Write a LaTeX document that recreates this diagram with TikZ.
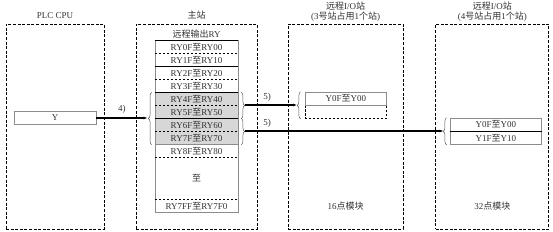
\documentclass[tikz,border=0pt]{standalone}
\usepackage{fontspec}
\setmainfont{Liberation Serif}
\newfontfamily\cjkfont{Noto Sans CJK SC}
\newcommand{\zh}[1]{{\cjkfont #1}}
\usepackage{tikz}
\usetikzlibrary{arrows.meta, positioning, calc, decorations.pathreplacing}
\definecolor{TxtGray}{RGB}{50, 50, 50}
\definecolor{CellGray}{RGB}{215, 215, 215}
\definecolor{EdgeGray}{RGB}{140, 140, 140}

\begin{document}
\begin{tikzpicture}[x=1pt, y=-1pt,
  frame/.style={draw=black, dashed, dash pattern=on 3pt off 1.6pt, line width=0.8pt,
    minimum width=#1, minimum height=205pt, inner sep=0pt},
  lbl/.style={font=\fontsize{9}{10.5}\selectfont\color{TxtGray}, inner sep=0pt, align=center},
  cell/.style={minimum width=83pt, minimum height=13pt, inner sep=0pt,
    font=\fontsize{9}{10}\selectfont\color{TxtGray}},
  hicell/.style={cell, fill=CellGray},
  regbox/.style={draw=EdgeGray, line width=0.6pt, minimum height=13pt, inner sep=0pt,
    font=\fontsize{9}{10}\selectfont\color{TxtGray}},
  thin dash/.style={dashed, dash pattern=on 2.5pt off 1.5pt, line width=0.6pt},
  thick sep/.style={line width=1.4pt},
  brc/.style={decorate, decoration={brace, amplitude=3.5pt}, line width=0.5pt, EdgeGray!60!black},
  arr/.style={-{Latex[length=4pt, width=3pt]}, line width=1.3pt}
]
\useasboundingbox (0,0) rectangle (553,232);

\node[frame=98pt]  (plc) at (55,126.5)    {};
\node[frame=121pt] (mst) at (196.5,126.5) {};
\node[frame=115pt] (st3) at (345.5,126.5) {};
\node[frame=113pt] (st4) at (492.3,126.5) {};

\node[lbl] (plct) at (55,16)    {PLC CPU};
\node[lbl] (mstt) at (196.5,15) {\zh{主站}};
\node[lbl] (st3t) at (345.5,11.5) {\zh{远程}I/O\zh{站}\\(3\zh{号站占用}1\zh{个站})};
\node[lbl] (st4t) at (492.3,11.5) {\zh{远程}I/O\zh{站}\\(4\zh{号站占用}1\zh{个站})};
\node[lbl] (ryt)  at (196.5,34) {\zh{远程输出}RY};

\node[regbox, minimum width=82pt] (yreg) at (55,118) {Y};

\node[cell]   (r0) at (196.5,47)  {RY0F\zh{至}RY00};
\node[cell]   (r1) at (196.5,60)  {RY1F\zh{至}RY10};
\node[cell]   (r2) at (196.5,73)  {RY2F\zh{至}RY20};
\node[cell]   (r3) at (196.5,86)  {RY3F\zh{至}RY30};
\node[hicell] (r4) at (196.5,99)  {RY4F\zh{至}RY40};
\node[hicell] (r5) at (196.5,112) {RY5F\zh{至}RY50};
\node[hicell] (r6) at (196.5,125) {RY6F\zh{至}RY60};
\node[hicell] (r7) at (196.5,138) {RY7F\zh{至}RY70};
\node[cell]   (r8) at (196.5,151) {RY8F\zh{至}RY80};
\node[cell, minimum height=42pt] (rmid) at (196.5,178.5) {\zh{至}};
\node[cell]   (rlast) at (196.5,206) {RY7FF\zh{至}RY7F0};

\draw[EdgeGray, line width=0.6pt] (r0.north west) rectangle (rlast.south east);
\draw[thick sep] (r0.north west) -- (r0.north east);
\draw[thin dash] (r0.south west) -- (r0.south east);
\draw[thick sep] (r1.south west) -- (r1.south east);
\draw[thin dash] (r2.south west) -- (r2.south east);
\draw[thick sep] (r3.south west) -- (r3.south east);
\draw[thin dash] (r4.south west) -- (r4.south east);
\draw[thick sep] (r5.south west) -- (r5.south east);
\draw[thin dash] (r6.south west) -- (r6.south east);
\draw[EdgeGray, line width=0.6pt] (r7.south west) -- (r7.south east);
\draw[thin dash] (r8.south west) -- (r8.south east);
\draw[thin dash, line width=1.4pt] (rmid.south west) -- (rmid.south east);

\node[regbox, minimum width=81.7pt] (s3a) at (345.8,98.5) {Y0F\zh{至}Y00};
\node[regbox, draw=black, thin dash, minimum width=81.7pt, below=0pt of s3a] (s3b) {};
\draw[EdgeGray, line width=0.6pt] (s3a.south west) -- (s3a.south east);

\node[regbox, minimum width=91.7pt] (s4a) at (495.8,124.5) {Y0F\zh{至}Y00};
\node[regbox, minimum width=91.7pt, below=0pt of s4a] (s4b) {Y1F\zh{至}Y10};
\draw[thick sep] (s4a.south west) -- (s4a.south east);

\draw[brc] ($(r7.south west)+(-3,0)$) -- ($(r4.north west)+(-3,0)$);
\draw[brc] ($(r4.north east)+(3,0)$) -- ($(r5.south east)+(3,0)$);
\draw[brc] ($(r6.north east)+(3,0)$) -- ($(r7.south east)+(3,0)$);
\draw[brc] ($(s3b.south west)+(-4,0)$) -- ($(s3a.north west)+(-4,0)$);
\draw[brc] ($(s4b.south west)+(-3,0)$) -- ($(s4a.north west)+(-3,0)$);

\coordinate (inL)  at (147.5,118);
\coordinate (out1) at (245,105);
\coordinate (out2) at (245,131);
\coordinate (in3)  at (297,105);
\coordinate (in4)  at (443.5,131);

\draw[arr] (yreg.east) -- (inL) node[lbl, above=4pt, midway] {4)};
\draw[arr] (out1) -- (in3);
\draw[arr] (out2) -- (in4);
\node[lbl] (l5a) at (267,97)  {5)};
\node[lbl] (l5b) at (267,123) {5)};

\node[lbl] (n16) at (345.5,206) {16\zh{点模块}};
\node[lbl] (n32) at (492.3,206) {32\zh{点模块}};
\end{tikzpicture}
\end{document}
